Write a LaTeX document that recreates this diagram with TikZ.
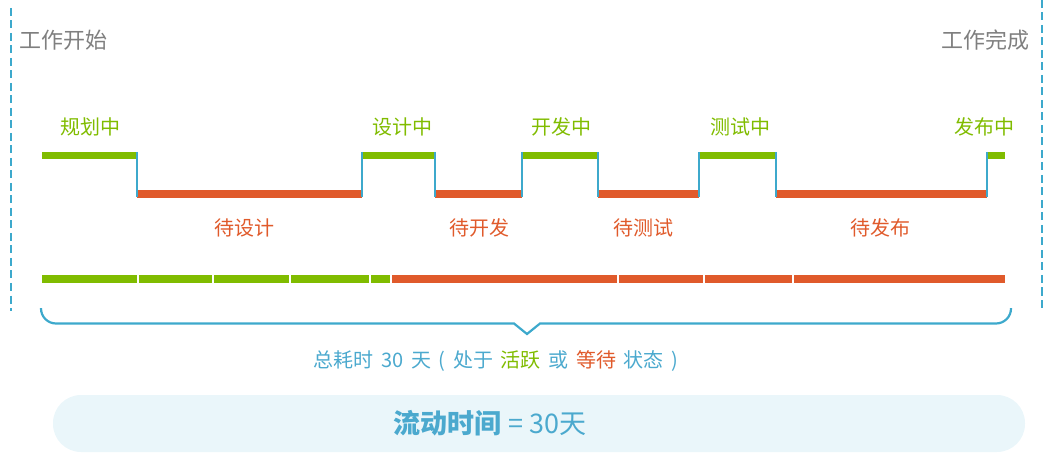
\documentclass[tikz,border=0pt]{standalone}
\usepackage{fontspec}
\setmainfont{Noto Sans CJK SC}
\definecolor{cgreen}{HTML}{80BC00}
\definecolor{corange}{HTML}{E05A2B}
\definecolor{cblue}{HTML}{3DA9CC}
\definecolor{ctext}{HTML}{4BA9CE}
\definecolor{cgray}{HTML}{7F7F7F}
\definecolor{cpill}{HTML}{EAF6FA}
\newcommand{\gapsp}{\hspace{0.38em}}
\begin{document}
\begin{tikzpicture}[x=1pt,y=-1pt,
  act/.style={line width=7pt, color=cgreen},
  wait/.style={line width=7.5pt, color=corange},
  trans/.style={line width=1.6pt, color=cblue, shorten <=-3.5pt, shorten >=-3.5pt},
  lblact/.style={text=cgreen, font=\fontsize{20}{24}\selectfont, inner sep=0pt},
  lblwait/.style={text=corange, font=\fontsize{20}{24}\selectfont, inner sep=0pt},
  edge/.style={text=cgray, font=\fontsize{22}{26}\selectfont, inner sep=0pt},
  limit/.style={line width=2pt, color=cblue, dash pattern=on 8pt off 4.5pt},
  gseg/.style={fill=cgreen},
  oseg/.style={fill=corange},
  brace/.style={line width=2.2pt, color=cblue, line join=miter}]
\useasboundingbox (0,0) rectangle (1058,465);

% start / end limits
\coordinate (lt) at (11,8);
\coordinate (lb) at (11,311);
\coordinate (rt) at (1042,0);
\coordinate (rb) at (1042,309);
\draw[limit] (lt) -- (lb);
\draw[limit] (rt) -- (rb);
\node[edge, anchor=west] (start) at (19,40) {工作开始};
\node[edge, anchor=east] (finish) at (1030,40) {工作完成};

% step line coordinates
\def\yt{155.5}
\def\yb{194}
\coordinate (a0) at (42,\yt);
\coordinate (a1) at (137,\yt);  \coordinate (b1) at (137,\yb);
\coordinate (b2) at (362,\yb);  \coordinate (a2) at (362,\yt);
\coordinate (a3) at (435,\yt);  \coordinate (b3) at (435,\yb);
\coordinate (b4) at (522,\yb);  \coordinate (a4) at (522,\yt);
\coordinate (a5) at (598,\yt);  \coordinate (b5) at (598,\yb);
\coordinate (b6) at (699,\yb);  \coordinate (a6) at (699,\yt);
\coordinate (a7) at (776,\yt);  \coordinate (b7) at (776,\yb);
\coordinate (b8) at (987,\yb);  \coordinate (a8) at (987,\yt);
\coordinate (a9) at (1005,\yt);

\draw[act] (a0) -- (a1);
\draw[wait] (b1) -- (b2);
\draw[act] (a2) -- (a3);
\draw[wait] (b3) -- (b4);
\draw[act] (a4) -- (a5);
\draw[wait] (b5) -- (b6);
\draw[act] (a6) -- (a7);
\draw[wait] (b7) -- (b8);
\draw[act] (a8) -- (a9);

\draw[trans] (a1) -- (b1);
\draw[trans] (b2) -- (a2);
\draw[trans] (a3) -- (b3);
\draw[trans] (b4) -- (a4);
\draw[trans] (a5) -- (b5);
\draw[trans] (b6) -- (a6);
\draw[trans] (a7) -- (b7);
\draw[trans] (b8) -- (a8);

% labels
\node[lblact] (l1) at (90,127) {规划中};
\node[lblact] (l2) at (402,127) {设计中};
\node[lblact] (l3) at (561,127) {开发中};
\node[lblact] (l4) at (740,127) {测试中};
\node[lblact] (l5) at (984,127) {发布中};
\node[lblwait] (w1) at (244,228) {待设计};
\node[lblwait] (w2) at (479,228) {待开发};
\node[lblwait] (w3) at (643,228) {待测试};
\node[lblwait] (w4) at (880,228) {待发布};

% summary bar
\fill[gseg] (42,275) rectangle (137,283);
\fill[gseg] (139,275) rectangle (212,283);
\fill[gseg] (214,275) rectangle (289,283);
\fill[gseg] (291,275) rectangle (368.5,283);
\fill[gseg] (370.5,275) rectangle (390,283);
\fill[oseg] (392,275) rectangle (617,283);
\fill[oseg] (619,275) rectangle (703,283);
\fill[oseg] (705,275) rectangle (792,283);
\fill[oseg] (794,275) rectangle (1005,283);

% brace
\draw[brace] (41,308) [rounded corners=15pt] -- (41,323.5) [sharp corners] -- (514,323.5) -- (527,334) -- (540,323.5) [rounded corners=15pt] -- (1011,323.5) [sharp corners] -- (1011,308);

\node[text=ctext, font=\fontsize{20}{24}\selectfont, inner sep=0pt] (total) at (496,361)
  {总耗时\gapsp 30\gapsp 天\gapsp (\gapsp 处于\gapsp {\color{cgreen}活跃}\gapsp 或\gapsp {\color{corange}等待}\gapsp 状态\gapsp )};

% result pill
\node[fill=cpill, rounded corners=28pt, minimum width=972pt, minimum height=57pt, inner sep=0pt] (pill) at (539,423.5) {};
\node[text=ctext, font=\fontsize{27}{32}\selectfont, inner sep=0pt] (flow) at (490,423)
  {\bfseries 流动时间 \mdseries = 30天};
\end{tikzpicture}
\end{document}
